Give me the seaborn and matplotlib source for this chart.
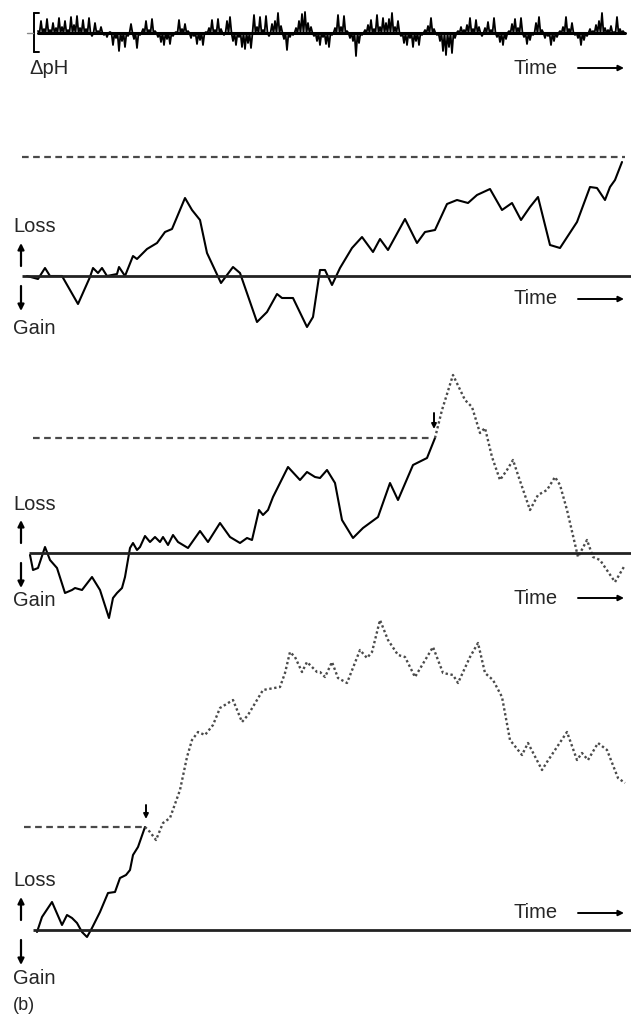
import numpy as np
import matplotlib
matplotlib.use("Agg")
import matplotlib.pyplot as plt
import seaborn as sns

sns.set_style("white")
plt.rcParams["font.family"] = ["Liberation Sans", "DejaVu Sans"]

# ---------------- data ----------------
# pH fluctuation peaks (one every 3 time units; the trace returns to rest between them)
ph_values = [
    2, 12, 4, 14, 3, 10, 5, 15, 6, 12,
    3, 16, 8, 17, 5, 13, 4, 15, -3, 10,
    2, 6, -2, -4, 1, -12, -5, -18, -8, -14,
    -3, 9, -6, -15, -2, 4, 12, 3, 14, 2,
    -4, -9, -12, -6, -11, -3, 1, 13, 4, 9,
    2, -5, -3, -11, -7, -12, 1, 5, 13, 3,
    14, 4, -2, 12, 16, -8, -12, -4, -14, -16,
    -10, -15, 18, 6, 16, 3, 17, -3, 9, 12,
    20, 7, -6, -17, -4, -2, 5, 12, 19, 21,
    10, 6, -3, -8, -12, -4, -11, -14, -2, 5,
    18, 6, 17, 2, -5, -8, -23, -10, -2, 3,
    8, 13, 4, 18, 6, 15, 10, 14, 20, 6,
    12, -3, -10, -12, -5, -14, -8, -12, -2, 3,
    7, 15, 4, -2, -8, -18, -22, -14, -20, -5,
    2, 6, 3, 8, 15, 4, 13, 6, -3, 5,
    11, 3, 15, -4, -9, -12, -6, 2, 9, 14,
    5, 15, -4, -11, -7, -2, 10, 16, 3, -5,
    -3, -12, -8, -4, 2, 6, 16, 4, 10, -2,
    -5, -12, -7, -3, 4, 2, 8, 12, 20, 5,
    3, 7, 1, 16, 4, 2,
]

# Record 1: cumulative loss never reaches the threshold
rec1_time = [0, 11, 18, 23, 35, 43, 51, 63, 66, 71, 75, 80, 90, 92, 98, 106, 110,
             120, 130, 138, 145, 158, 165, 173, 180, 194, 206, 213, 230, 240, 250,
             255, 266, 280, 286, 293, 298, 305, 313, 325, 335, 346, 353, 361, 378,
             390, 398, 408, 420, 430, 441, 450, 463, 475, 485, 494, 503, 511, 523,
             533, 550, 563, 570, 578, 583, 588, 595]
rec1_loss = [0, -3, 8, 0, 0, -14, -28, -1, 8, 3, 8, 0, 2, 9, 0, 20, 17,
             27, 33, 44, 47, 78, 66, 56, 23, -7, 9, 3, -46, -36, -18,
             -22, -22, -51, -41, 6, 6, -9, 8, 28, 39, 24, 37, 26, 57,
             33, 44, 46, 72, 76, 73, 81, 87, 66, 73, 56, 69, 79, 31,
             28, 54, 89, 88, 76, 89, 96, 114]
rec1_threshold = 119

# Record 2: threshold crossed, then loss decays
rec2_time = [0, 3, 8, 15, 20, 27, 35, 42, 45, 52, 62, 70, 79, 83, 87, 92, 95,
             100, 103, 107, 110, 115, 120, 125, 130, 133, 138, 143, 148, 158, 170,
             178, 190, 200, 210, 217, 222, 229, 233, 238, 243, 258, 270, 277, 285,
             290, 297, 305, 312, 323, 333, 348, 360, 368, 383, 397, 405]
rec2_loss = [-2, -17, -15, 6, -7, -15, -40, -37, -35, -37, -24, -37, -65, -45, -40, -35, -24,
             5, 10, 3, 6, 17, 11, 16, 11, 16, 8, 18, 11, 5, 22,
             11, 30, 16, 10, 15, 13, 43, 38, 43, 56, 86, 73, 81, 76,
             75, 83, 70, 33, 15, 25, 36, 70, 53, 88, 95, 115]
rec2_after_time = [405, 412, 423, 435, 442, 450, 455, 462, 470, 477, 483, 488, 500,
                   508, 517, 525, 530, 537, 548, 557, 563, 570, 585, 595]
rec2_after_loss = [115, 143, 178, 153, 146, 120, 125, 96, 73, 83, 93, 78, 43,
                   58, 63, 76, 68, 43, -4, 13, -4, -7, -29, -12]
rec2_threshold = 115

# Record 3: early threshold crossing
rec3_time = [0, 5, 15, 25, 30, 35, 40, 45, 50, 55, 63, 71, 78, 83, 89, 93, 96, 101, 108]
rec3_loss = [-2, 13, 28, 5, 15, 12, 7, -2, -7, 2, 18, 37, 38, 52, 55, 60, 75, 83, 103]
rec3_after_time = [108, 113, 119, 126, 133, 143, 150, 155, 161, 168, 176, 183, 196,
                   205, 211, 220, 226, 243, 248, 253, 258, 265, 270, 280, 283, 288,
                   295, 301, 310, 323, 330, 335, 343, 351, 361, 368, 378, 396, 406,
                   416, 421, 433, 441, 448, 456, 465, 473, 485, 491, 505, 510, 520,
                   530, 540, 545, 551, 561, 570, 581, 588]
rec3_after_loss = [103, 98, 90, 107, 112, 140, 173, 190, 198, 195, 205, 222, 230,
                   208, 215, 230, 240, 243, 257, 278, 273, 258, 268, 258, 258, 253,
                   268, 252, 247, 280, 272, 278, 310, 290, 275, 273, 253, 283, 257,
                   255, 247, 273, 287, 257, 250, 233, 190, 175, 187, 160, 168, 183,
                   198, 170, 177, 170, 187, 180, 152, 147]
rec3_threshold = 103

# ---------------- layout ----------------
W, H = 631, 1018
fig = plt.figure(figsize=(W / 100, H / 100), dpi=100)
FS = 14.5
INK = "black"
GREY = "#4a4a4a"


def panel(top, bottom, x0, base):
    ax = fig.add_axes([0, 1 - bottom / H, 1, (bottom - top) / H])
    ax.set_xlim(-x0, W - x0)
    ax.set_ylim(base - bottom, base - top)
    ax.axis("off")
    return ax, x0, base


def arrow(ax, tail, head, lw=1.6, ms=9):
    ax.annotate("", xy=head, xytext=tail,
                arrowprops=dict(arrowstyle="-|>", lw=lw, color=INK,
                                mutation_scale=ms, shrinkA=0, shrinkB=0))


def trace(ax, t, v, dotted=False):
    if dotted:
        sns.lineplot(x=t, y=v, ax=ax, sort=False, estimator=None, color=GREY,
                     lw=1.7, linestyle=(0, (1, 1.1)))
    else:
        sns.lineplot(x=t, y=v, ax=ax, sort=False, estimator=None, color=INK,
                     lw=1.5)


def frame(ax, x0, base, line_from, time_dy, gain_dy=50):
    ax.plot([line_from - x0, W - x0], [0, 0], color="#222222", lw=2.0,
            solid_capstyle="butt")
    ax.text(13 - x0, 49, "Loss", fontsize=FS, ha="left", va="center")
    ax.text(13 - x0, -gain_dy, "Gain", fontsize=FS, ha="left", va="center")
    arrow(ax, (21 - x0, 10), (21 - x0, 33))
    arrow(ax, (21 - x0, -10), (21 - x0, -35))
    ax.text(513 - x0, -time_dy, "Time", fontsize=FS, ha="left", va="center")
    arrow(ax, (578 - x0, -time_dy), (624 - x0, -time_dy), lw=1.4, ms=8)


# --- pH trace: spikes about a resting level ---
ax0, x0, base = panel(0, 90, 38, 33)
ph_arr = np.asarray(ph_values, dtype=float)
spike_t = np.arange(2 * len(ph_arr)) * 1.5
spike_v = np.column_stack([ph_arr, np.zeros_like(ph_arr)]).ravel()
ax0.plot([0, spike_t[-1]], [0, 0], color=INK, lw=2.2)
sns.lineplot(x=spike_t, y=spike_v, ax=ax0, sort=False, estimator=None,
             color=INK, lw=1.3)
ax0.plot([34 - x0, 34 - x0], [20, -19], color=INK, lw=1.4)
ax0.plot([34 - x0, 39 - x0], [20, 20], color=INK, lw=1.4)
ax0.plot([34 - x0, 39 - x0], [-19, -19], color=INK, lw=1.4)
ax0.plot([27 - x0, 33 - x0], [0, 0], color="#888888", lw=1.0)
ax0.text(29 - x0, -35, "\u0394pH", fontsize=FS, ha="left", va="center")
ax0.text(513 - x0, -35, "Time", fontsize=FS, ha="left", va="center")
arrow(ax0, (578 - x0, -35), (624 - x0, -35), lw=1.4, ms=8)

# --- record 1 ---
ax1, x0, base = panel(140, 345, 27, 276)
ax1.hlines(rec1_threshold, 22 - x0, 625 - x0, color=GREY, lw=1.6,
           linestyle=(0, (3, 2)))
trace(ax1, rec1_time, rec1_loss)
frame(ax1, x0, base, 22, 23, gain_dy=52)

# --- record 2 ---
ax2, x0, base = panel(360, 630, 30, 553)
ax2.hlines(rec2_threshold, 33 - x0, 432 - x0, color=GREY, lw=1.6,
           linestyle=(0, (3, 2)))
trace(ax2, rec2_time, rec2_loss)
trace(ax2, rec2_after_time, rec2_after_loss, dotted=True)
arrow(ax2, (434 - x0, rec2_threshold + 25), (434 - x0, rec2_threshold + 9),
      lw=1.4, ms=7)
frame(ax2, x0, base, 29, 45, gain_dy=47)

# --- record 3 ---
ax3, x0, base = panel(600, 1018, 37, 930)
ax3.hlines(rec3_threshold, 24 - x0, 145 - x0, color=GREY, lw=1.6,
           linestyle=(0, (3, 2)))
trace(ax3, rec3_time, rec3_loss)
trace(ax3, rec3_after_time, rec3_after_loss, dotted=True)
arrow(ax3, (146 - x0, rec3_threshold + 22), (146 - x0, rec3_threshold + 8),
      lw=1.4, ms=7)
frame(ax3, x0, base, 33, -17, gain_dy=48)
ax3.text(13 - x0, -75, "(b)", fontsize=13, ha="left", va="center")

fig.savefig("out.png", dpi=100)
